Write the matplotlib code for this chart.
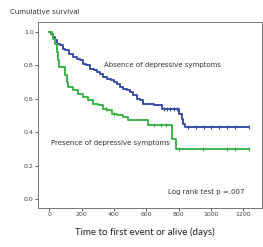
import matplotlib
matplotlib.use("Agg")
import matplotlib.pyplot as plt
import numpy as np

# Absence of depressive symptoms (blue): event times and survival after each step
blue_t = [0, 8, 20, 35, 50, 66, 85, 100, 120, 149, 170, 190, 210, 230, 252, 275, 295, 314,
          335, 355, 380, 400, 417, 440, 458, 480, 500, 520, 541, 560, 582, 650, 696, 800,
          820, 830, 840, 1235]
blue_s = [1.0, 0.99, 0.97, 0.95, 0.93, 0.92, 0.90, 0.89, 0.87, 0.85, 0.84, 0.83, 0.81, 0.80,
          0.78, 0.77, 0.76, 0.75, 0.73, 0.72, 0.71, 0.70, 0.69, 0.67, 0.66, 0.65, 0.64, 0.62,
          0.60, 0.59, 0.57, 0.56, 0.54, 0.51, 0.48, 0.45, 0.43, 0.43]
blue_cens = [710, 730, 750, 770, 790, 860, 910, 960, 1000, 1050, 1100, 1150, 1235]

# Presence of depressive symptoms (green)
green_t = [0, 15, 25, 35, 46, 52, 60, 100, 110, 118, 149, 180, 211, 240, 272, 300, 334, 360,
           386, 420, 458, 489, 613, 758, 785, 1237]
green_s = [1.0, 0.98, 0.96, 0.93, 0.88, 0.83, 0.79, 0.74, 0.70, 0.67, 0.65, 0.63, 0.61, 0.59,
           0.57, 0.56, 0.54, 0.53, 0.51, 0.50, 0.49, 0.47, 0.44, 0.36, 0.30, 0.30]
green_cens = [350, 400, 650, 690, 720, 800, 950, 1100, 1150, 1237]

x_ticks = [0, 200, 400, 600, 800, 1000, 1200]
y_ticks = [0.0, 0.2, 0.4, 0.6, 0.8, 1.0]
y_ticklabels = ["0.0", "0.2", "0.4", "0.6", "0.8", "1.0"]

BLUE = "#3b4ea6"
GREEN = "#3db44b"


def surv_at(ts, ss, t):
    idx = np.searchsorted(ts, t, side="right") - 1
    return ss[max(idx, 0)]


fig = plt.figure(figsize=(2.63, 2.47), dpi=100)
ax = fig.add_axes([0.1445, 0.158, 0.852, 0.753])

ax.step(blue_t, blue_s, where="post", color=BLUE, lw=1.4)
ax.step(green_t, green_s, where="post", color=GREEN, lw=1.4)
ax.plot(blue_cens, [surv_at(blue_t, blue_s, t) for t in blue_cens], ls="none",
        marker="|", ms=3, mew=0.8, color=BLUE)
ax.plot(green_cens, [surv_at(green_t, green_s, t) for t in green_cens], ls="none",
        marker="|", ms=3, mew=0.8, color=GREEN)

ax.set_xlim(-70, 1317)
ax.set_ylim(-0.054, 1.06)
ax.set_xticks(x_ticks)
ax.set_xticklabels([str(v) for v in x_ticks])
ax.set_yticks(y_ticks)
ax.set_yticklabels(y_ticklabels)
ax.tick_params(labelsize=4.5, colors="#444444", length=2, width=0.6, pad=1)
for sp in ax.spines.values():
    sp.set_color("#777777")
    sp.set_linewidth(0.7)

ax.text(340, 0.80, "Absence of depressive symptoms", fontsize=5, color="#333333",
        va="center", ha="left")
ax.text(10, 0.335, "Presence of depressive symptoms", fontsize=5, color="#333333",
        va="center", ha="left")
ax.text(1210, 0.04, "Log rank test p =.007", fontsize=5, color="#333333",
        va="center", ha="right")

fig.text(10 / 263, 1 - 12 / 247, "Cumulative survival", fontsize=5, color="#333333",
         va="center", ha="left")
fig.text(145 / 263, 1 - 232 / 247, "Time to first event or alive (days)", fontsize=7,
         color="#222222", va="center", ha="center", family="Lato")

fig.savefig("out.png", dpi=100, facecolor="white")
